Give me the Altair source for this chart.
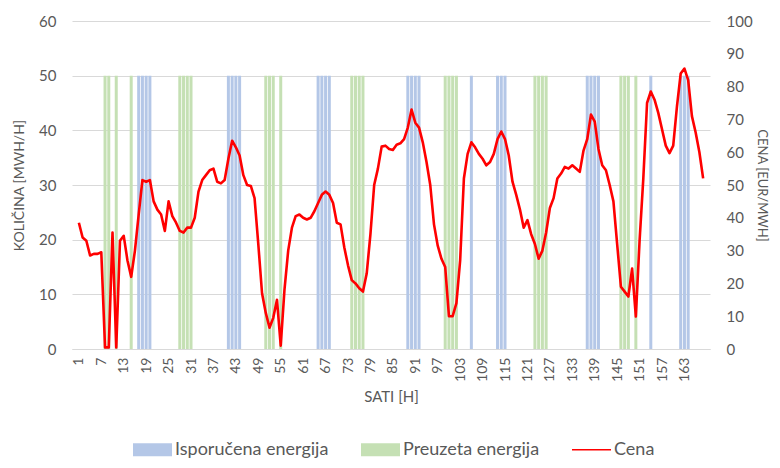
import altair as alt
import pandas as pd

# ---- data ----
sati = list(range(1, 169))
cena = [38.5, 34, 33, 28.5, 29, 29, 29.5, 0.5, 0.5, 35.5, 0.5, 33, 34.5, 27, 22, 30, 41, 51.5, 51, 51.5,
        45, 42.5, 41, 36, 45, 40.5, 38.5, 36, 35.5, 37, 37, 40, 48, 51.5, 53, 54.5, 55, 51, 50.5, 51.5,
        58, 63.5, 61.5, 59, 53, 50, 49.7, 46, 32, 17, 11, 6.5, 9.5, 15, 1, 18, 30, 37, 40.5, 41,
        40, 39.5, 40, 42, 44.5, 47, 48, 47, 44.5, 38.5, 38, 31, 25.5, 21, 20, 18.5, 17.5, 23, 35, 50,
        55, 61.7, 62, 61, 60.7, 62.3, 62.7, 64, 67.5, 73, 69, 67.5, 63, 57, 50, 38, 31.5, 27.5, 25, 10,
        10, 14, 27, 52, 59.5, 63, 61.5, 59.5, 58, 56, 57, 59.5, 64, 66.3, 64, 59, 51, 47, 42.5, 37,
        39.3, 35, 32, 27.5, 30, 35.5, 43, 46, 52, 53.5, 55.5, 55, 56, 55, 54, 60.5, 64, 71.5, 69.3, 61,
        56, 54.5, 50, 45, 32, 19, 17.5, 16, 24.5, 9.9, 33, 52, 75, 78.5, 76, 72, 67, 62, 59.7, 62,
        74, 84, 85.5, 82, 71, 66, 60, 52]

isporucena_sati = [17, 18, 19, 20, 41, 42, 43, 44, 65, 66, 67, 68, 89, 90, 91, 92,
                   106, 113, 114, 115, 137, 138, 139, 140, 154, 162, 163, 164]
preuzeta_sati = [8, 9, 11, 15, 28, 29, 30, 31, 51, 52, 53, 55, 74, 75, 76, 77,
                 99, 100, 101, 102, 123, 124, 125, 126, 146, 147, 148, 150]
kolicina = 50

serije = ["Isporučena energija", "Preuzeta energija", "Cena"]
boje = ["#B4C7E7", "#C5E0B4", "#FF0000"]
x_ticks = list(range(1, 168, 6))

FONT = "Lato"
GRAY = "#595959"
GRID = "#D9D9D9"

df_isp = pd.DataFrame({"sat": isporucena_sati, "kolicina": [kolicina] * len(isporucena_sati)})
df_pre = pd.DataFrame({"sat": preuzeta_sati, "kolicina": [kolicina] * len(preuzeta_sati)})
df_cena = pd.DataFrame({"sat": sati, "cena": cena})
df_leg = pd.DataFrame({"serija": serije, "sat": [None] * 3, "kolicina": [None] * 3})

x_enc = alt.X(
    "sat:Q",
    scale=alt.Scale(domain=[0.5, 168.5], nice=False, zero=False),
    axis=alt.Axis(
        values=x_ticks, title="SATI [H]", labelAngle=270, grid=False, ticks=False,
        domain=True, domainColor=GRID, labelPadding=8, labelFontSize=14, labelColor=GRAY,
        labelFont=FONT, titleFont=FONT, titleFontSize=15, titleColor=GRAY, titleFontWeight="normal",
        titlePadding=8, labelOverlap=False, labelFlush=False,
    ),
)

y_left_axis = alt.Axis(
    values=[0, 10, 20, 30, 40, 50, 60], title="KOLIČINA [MWH/H]", grid=True, gridColor=GRID,
    domain=False, ticks=False, labelPadding=16, labelFontSize=15, labelColor=GRAY, labelFont=FONT,
    titleFont=FONT, titleFontSize=14, titleColor=GRAY, titleFontWeight="normal", titlePadding=12,
)
y_left = alt.Y("kolicina:Q", scale=alt.Scale(domain=[0, 60], nice=False), axis=y_left_axis)

bars_isp = alt.Chart(df_isp).mark_bar(size=3, color=boje[0]).encode(x=x_enc, y=y_left)
bars_pre = alt.Chart(df_pre).mark_bar(size=3, color=boje[1]).encode(x=x_enc, y=y_left)

shape_paths = ["M-1,-0.33H1V0.33H-1Z", "M-1,-0.33H1V0.33H-1Z", "M-1,-0.04H1V0.04H-1Z"]
legend_pts = alt.Chart(df_leg).mark_point(filled=True, opacity=1).encode(
    x=x_enc,
    y=y_left,
    color=alt.Color(
        "serija:N",
        scale=alt.Scale(domain=serije, range=boje),
        legend=alt.Legend(
            title=None, orient="none", legendX=61, legendY=409, direction="horizontal",
            labelFontSize=18, labelColor=GRAY, labelFont=FONT, symbolSize=1521,
            symbolStrokeWidth=0, columnPadding=32, labelOffset=3, symbolOpacity=1,
        ),
    ),
    shape=alt.Shape("serija:N", scale=alt.Scale(domain=serije, range=shape_paths)),
    size=alt.value(1521),
)

left = alt.layer(bars_isp, bars_pre, legend_pts)

line = alt.Chart(df_cena).mark_line(color=boje[2], strokeWidth=2.6, strokeJoin="round").encode(
    x=x_enc,
    y=alt.Y(
        "cena:Q",
        scale=alt.Scale(domain=[0, 100], nice=False),
        axis=alt.Axis(
            values=list(range(0, 101, 10)), title="CENA [EUR/MWH]", orient="right", grid=False,
            domain=False, ticks=False, labelPadding=16, labelFontSize=15, labelColor=GRAY,
            labelFont=FONT, titleFont=FONT, titleFontSize=13, titleColor=GRAY,
            titleFontWeight="normal", titlePadding=2,
        ),
    ),
)

chart = (
    alt.layer(left, line)
    .resolve_scale(y="independent")
    .properties(
        width=638, height=328,
        autosize=alt.AutoSizeParams(type="none"),
        padding={"left": 64, "top": 13, "right": 62, "bottom": 110},
        background="white",
    )
    .configure_view(stroke=None)
)

chart.save("out.html", embed_options={"renderer": "svg", "actions": False})
